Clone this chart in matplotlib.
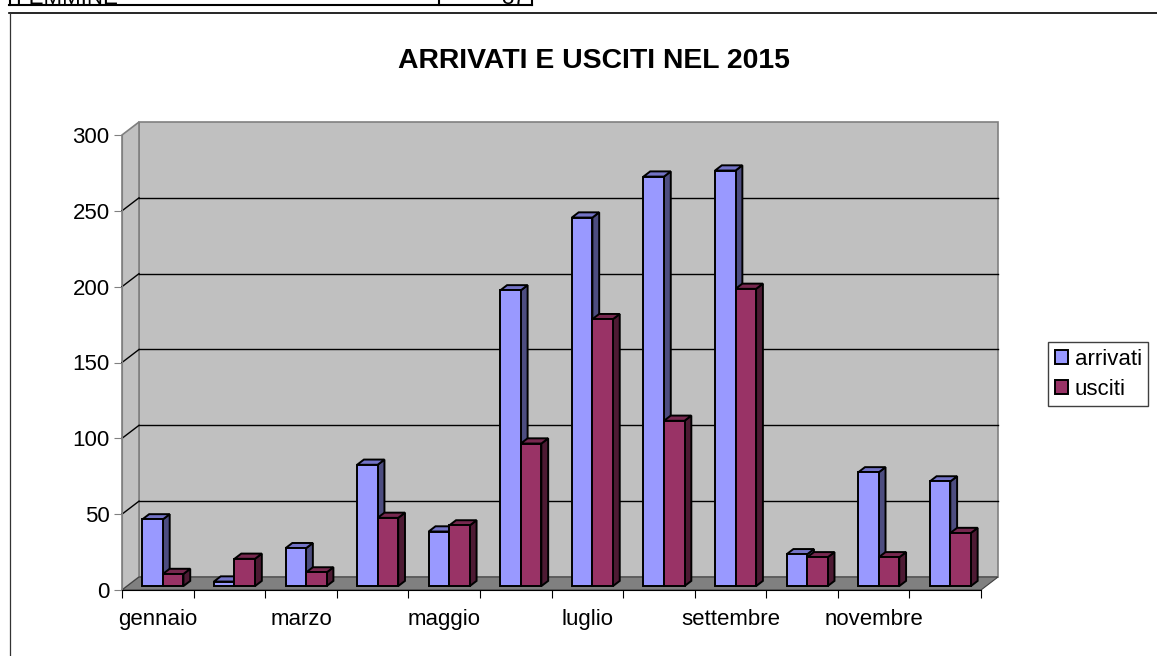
import numpy as np
import matplotlib.pyplot as plt
from matplotlib.patches import Polygon, Patch

plt.rcParams['font.family'] = ['Liberation Sans', 'DejaVu Sans']

# dati
mesi = ['gennaio', 'febbraio', 'marzo', 'aprile', 'maggio', 'giugno',
        'luglio', 'agosto', 'settembre', 'ottobre', 'novembre', 'dicembre']
arrivati = [44, 3, 25, 80, 36, 195, 243, 270, 274, 21, 75, 69]
usciti = [8, 18, 9, 45, 40, 94, 176, 109, 196, 19, 19, 35]
serie = ['arrivati', 'usciti']
yticks = [0, 50, 100, 150, 200, 250, 300]
titolo = 'ARRIVATI E USCITI NEL 2015'

W, H = 1157, 656
fig = plt.figure(figsize=(W / 100, H / 100), dpi=100)

# livello "foglio": cella sopra e bordo del grafico, in pixel
bg = fig.add_axes([0, 0, 1, 1])
bg.set_xlim(0, W)
bg.set_ylim(H, 0)
bg.axis('off')
bg.plot([9, 532], [5, 5], color='black', lw=1.5)
for xv in [10, 439, 532]:
    bg.plot([xv, xv], [-2, 5], color='black', lw=1.5)
bg.text(15, 3.5, 'FEMMINE', fontsize=16, va='baseline', ha='left')
bg.text(526, 3.5, '37', fontsize=16, va='baseline', ha='right')
bg.plot([9, W], [13, 13], color='black', lw=1.2)
bg.plot([10, 10], [13, H], color='#333333', lw=0.9)

fig.text(594 / W, 1 - 68 / H, titolo, ha='center', va='baseline',
         fontsize=20.4, fontweight='bold')

# piano frontale del grafico
ax = fig.add_axes([122 / W, 1 - 590 / H, (981 - 122) / W, (590 - 135) / H])
n = len(mesi)
ax.set_xlim(0, n)
ax.set_ylim(0, 300)
ax.patch.set_visible(False)

# profondita' 3D in unita' dati
DX = 17 / ((981 - 122) / n)
DY = 13 / ((590 - 135) / 300)
F0, F1 = 0.3, 0.7
ymax = yticks[-1]

wall = '#C0C0C0'
ax.add_patch(Polygon([(DX, DY), (n + DX, DY), (n + DX, ymax + DY), (DX, ymax + DY)],
                     closed=True, fc=wall, ec='#808080', lw=1.2, clip_on=False, zorder=0))
ax.add_patch(Polygon([(0, 0), (DX, DY), (DX, ymax + DY), (0, ymax)],
                     closed=True, fc=wall, ec='#808080', lw=1.2, clip_on=False, zorder=0))
ax.add_patch(Polygon([(0, 0), (n, 0), (n + DX, DY), (DX, DY)],
                     closed=True, fc='#808080', ec='#404040', lw=0.8, clip_on=False, zorder=0.5))
for v in yticks[1:-1]:
    ax.plot([DX, n + DX], [v + DY, v + DY], color='black', lw=1, zorder=1, clip_on=False)
    ax.plot([0, DX], [v, v + DY], color='black', lw=1, zorder=1, clip_on=False)

# barre 3D
x = np.arange(n) + 0.5
w = 0.287
colori = [('#9999FF', '#4D4D80', '#7373C6'), ('#993366', '#4D1A33', '#77284F')]
for k, (vals, (cf, cs, ct)) in enumerate(zip([arrivati, usciti], colori)):
    x0 = x - w + k * w
    z = 3 + k
    ax.bar(x0 + F0 * DX, vals, width=w, bottom=F0 * DY, align='edge',
           color=cf, edgecolor='black', linewidth=1.4, zorder=z + 0.2, label=serie[k])
    for xl, v in zip(x0, vals):
        xr = xl + w
        side = [(xr + F0 * DX, F0 * DY), (xr + F1 * DX, F1 * DY),
                (xr + F1 * DX, v + F1 * DY), (xr + F0 * DX, v + F0 * DY)]
        top = [(xl + F0 * DX, v + F0 * DY), (xr + F0 * DX, v + F0 * DY),
               (xr + F1 * DX, v + F1 * DY), (xl + F1 * DX, v + F1 * DY)]
        ax.add_patch(Polygon(side, closed=True, fc=cs, ec='black', lw=1.4, zorder=z, clip_on=False))
        ax.add_patch(Polygon(top, closed=True, fc=ct, ec='black', lw=1.4, zorder=z, clip_on=False))

# assi
for s in ['top', 'right']:
    ax.spines[s].set_visible(False)
ax.spines['left'].set_color('#808080')
ax.spines['bottom'].set_color('black')
ax.set_yticks(yticks)
ax.tick_params(axis='y', length=6, color='#808080', labelsize=16, pad=3)
ax.set_xticks(np.arange(n + 1))
ax.set_xticklabels([])
ax.set_xticks(x, minor=True)
ax.set_xticklabels([m if i % 2 == 0 else '' for i, m in enumerate(mesi)], minor=True)
ax.tick_params(axis='x', which='major', length=6, color='black')
ax.tick_params(axis='x', which='minor', length=0, labelsize=16, pad=13.5)

handles = [Patch(fc=c[0], ec='black', lw=1.4) for c in colori]
fig.legend(handles, serie, loc='upper left', bbox_to_anchor=(1048 / W, 1 - 342 / H),
           bbox_transform=fig.transFigure, borderaxespad=0, fontsize=16,
           handlelength=0.6, handleheight=0.6, handletextpad=0.3, labelspacing=0.4,
           borderpad=0.3, fancybox=False, edgecolor='#404040', framealpha=1)

fig.savefig('out.png', dpi=100)
